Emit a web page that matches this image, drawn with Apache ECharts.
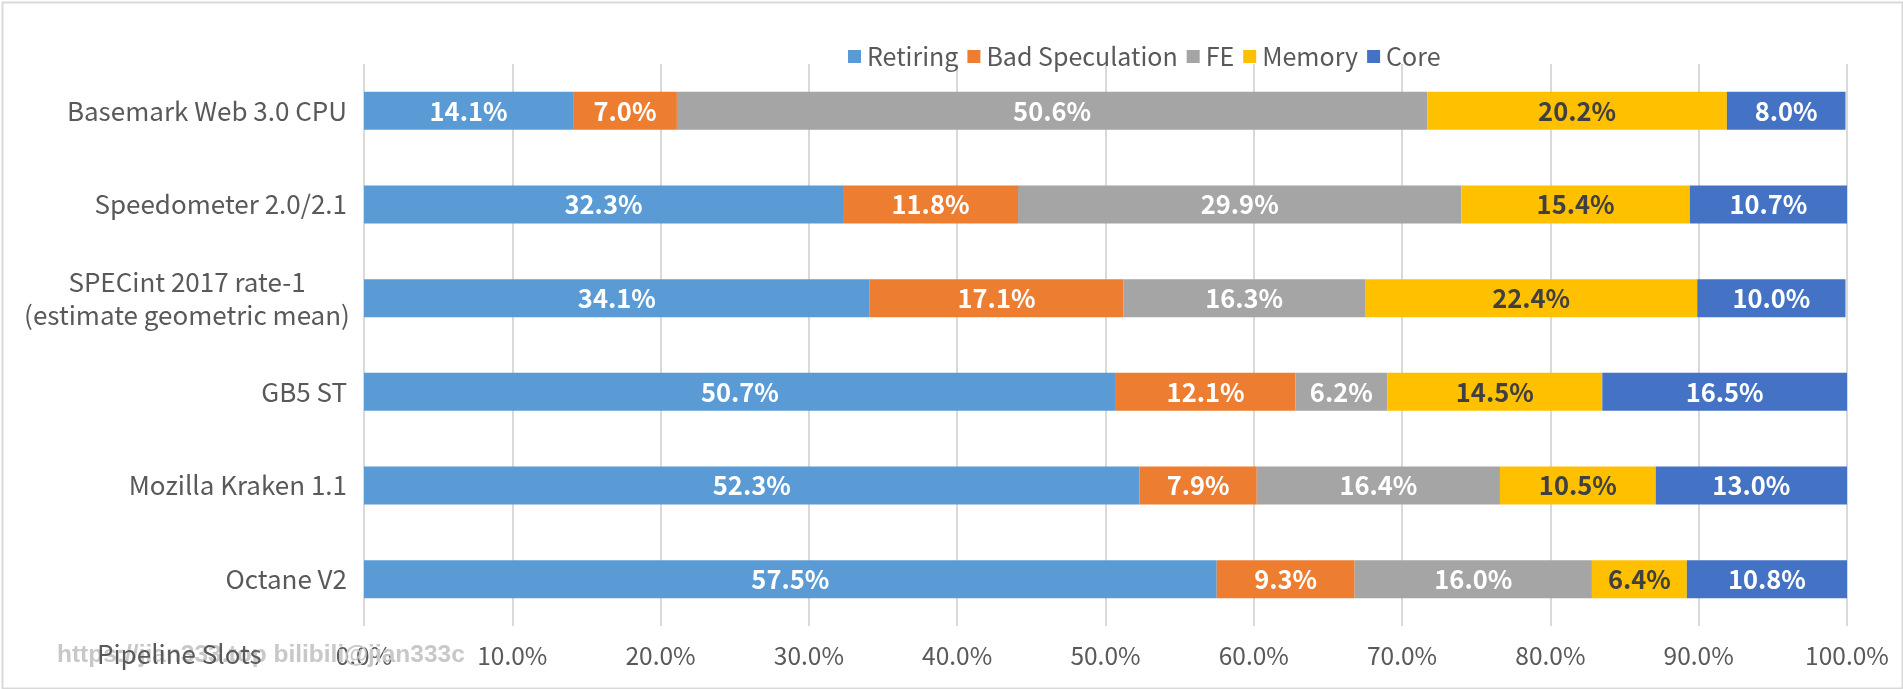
<!DOCTYPE html>
<html>
<head>
<meta charset="utf-8">
<script src="https://cdn.jsdelivr.net/npm/echarts@6/dist/echarts.min.js"></script>
<style>
html,body{margin:0;padding:0;background:#fff;}
#chart{width:1903px;height:689px;}
</style>
</head>
<body>
<div id="chart"></div>
<script>
const categories = ['Basemark Web 3.0 CPU', 'Speedometer 2.0/2.1', 'SPECint 2017 rate-1\n(estimate geometric mean)', 'GB5 ST', 'Mozilla Kraken 1.1', 'Octane V2'];
const retiring = [14.1, 32.3, 34.1, 50.7, 52.3, 57.5];
const badSpeculation = [7.0, 11.8, 17.1, 12.1, 7.9, 9.3];
const fe = [50.6, 29.9, 16.3, 6.2, 16.4, 16.0];
const memory = [20.2, 15.4, 22.4, 14.5, 10.5, 6.4];
const core = [8.0, 10.7, 10.0, 16.5, 13.0, 10.8];
const seriesNames = ['Retiring', 'Bad Speculation', 'FE', 'Memory', 'Core'];
const seriesColors = ['#5B9BD5', '#ED7D31', '#A5A5A5', '#FFC000', '#4472C4'];
const labelColors = ['#FFFFFF', '#FFFFFF', '#FFFFFF', '#404040', '#FFFFFF'];
const xTicks = [0, 10, 20, 30, 40, 50, 60, 70, 80, 90, 100];

const FONT = '"Noto Sans CJK SC", "Noto Sans", sans-serif';
const seriesData = [retiring, badSpeculation, fe, memory, core];

const chart = echarts.init(document.getElementById('chart'), null, {renderer: 'canvas'});
const option = {
  backgroundColor: '#FFFFFF',
  animation: false,
  textStyle: {fontFamily: FONT},
  legend: {
    data: seriesNames,
    left: 843,
    top: 39,
    itemWidth: 13,
    itemHeight: 13,
    itemGap: 9,
    icon: 'rect',
    textStyle: {fontFamily: FONT, fontSize: 25, color: '#595959', padding: [0, 0, 0, 1]}
  },
  grid: {left: 364, right: 56, top: 64, bottom: 63, containLabel: false},
  xAxis: {
    type: 'value',
    min: xTicks[0],
    max: xTicks[xTicks.length - 1],
    interval: 10,
    axisLine: {show: false},
    axisTick: {show: false},
    splitLine: {show: true, lineStyle: {color: '#D9D9D9', width: 2}},
    axisLabel: {
      fontFamily: FONT, fontSize: 24.5, color: '#595959', margin: 17,
      formatter: v => v.toFixed(1) + '%'
    }
  },
  yAxis: {
    type: 'category',
    inverse: true,
    data: categories,
    axisLine: {show: false},
    axisTick: {show: false},
    axisLabel: {
      fontFamily: FONT, fontSize: 26, color: '#595959', margin: 17, lineHeight: 33,
      formatter: v => v.indexOf('\n') >= 0 ? v.split('\n').map(s => '{c|' + s + '}').join('\n') : v,
      rich: {c: {width: 320, align: 'center', fontFamily: FONT, fontSize: 26, color: '#595959', lineHeight: 33}}
    }
  },
  graphic: [
    {type: 'rect', left: 0, top: 0, shape: {x: 1, y: 1, width: 1900, height: 686}, style: {fill: 'none', stroke: '#D9D9D9', lineWidth: 2}, z: -1},
    {type: 'text', left: 57, top: 643, z: 1, style: {text: 'https://jian333.top bilibili@jian333c', fontFamily: '"Liberation Sans", Arial, sans-serif', fontWeight: 'bold', fontSize: 24.5, fill: '#C8C8C8'}},
    {type: 'text', left: 97, top: 641, z: 2, style: {text: 'Pipeline Slots', fontFamily: FONT, fontSize: 26, fill: '#595959'}}
  ],
  series: seriesNames.map((name, i) => ({
    name: name,
    type: 'bar',
    stack: 'total',
    barWidth: 38,
    data: seriesData[i],
    itemStyle: {color: seriesColors[i]},
    label: {
      show: true,
      position: 'inside',
      fontFamily: FONT,
      fontWeight: 'bold',
      fontSize: 25.5,
      color: labelColors[i],
      formatter: p => p.value.toFixed(1) + '%'
    }
  }))
};
chart.setOption(option);
</script>
</body>
</html>
